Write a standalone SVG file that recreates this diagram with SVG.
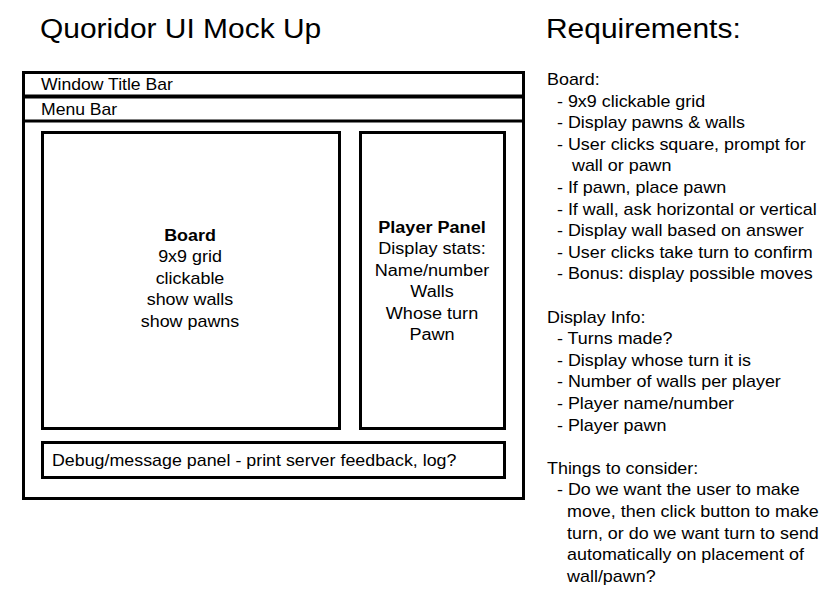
<svg xmlns="http://www.w3.org/2000/svg" width="828" height="612" viewBox="0 0 828 612">
<style>
text{font-family:"Liberation Sans",Arial,sans-serif;fill:#000}
.t{font-size:28px}
.b{font-size:16px}
.box{fill:#fff;stroke:#000;stroke-width:3}
.bold{font-weight:bold}
</style>
<rect width="828" height="612" fill="#fff"/>
<g id="headings">
<text class="t" x="40" y="38" transform="translate(40 0) scale(1.07 1) translate(-40 0)">Quoridor UI Mock Up</text>
<text class="t" x="546" y="38" transform="translate(546 0) scale(1.07 1) translate(-546 0)">Requirements:</text>
</g>
<g id="window">
<rect class="box" x="23.5" y="72.5" width="500" height="426"/>
</g>
<g id="title-bar">
<line x1="23.5" y1="96.5" x2="523.5" y2="96.5" stroke="#000" stroke-width="4"/>
<text class="b" x="41" y="90" transform="translate(41 0) scale(1.1 1) translate(-41 0)">Window Title Bar</text>
</g>
<g id="menu-bar">
<line x1="23.5" y1="121" x2="523.5" y2="121" stroke="#000" stroke-width="3"/>
<text class="b" x="41" y="115" transform="translate(41 0) scale(1.1 1) translate(-41 0)">Menu Bar</text>
</g>
<g id="board">
<rect class="box" x="42.5" y="132.5" width="297" height="296"/>
<text class="b" text-anchor="middle" x="190" y="241" transform="translate(190 0) scale(1.12 1) translate(-190 0)"><tspan class="bold" x="190">Board</tspan><tspan x="190" dy="21.5">9x9 grid</tspan><tspan x="190" dy="21.5">clickable</tspan><tspan x="190" dy="21.5">show walls</tspan><tspan x="190" dy="21.5">show pawns</tspan></text>
</g>
<g id="player-panel">
<rect class="box" x="360.5" y="132.5" width="144" height="296"/>
<text class="b" text-anchor="middle" x="432" y="233" transform="translate(432 0) scale(1.13 1) translate(-432 0)"><tspan class="bold" x="432">Player Panel</tspan><tspan x="432" dy="21.5">Display stats:</tspan><tspan x="432" dy="21.5">Name/number</tspan><tspan x="432" dy="21.5">Walls</tspan><tspan x="432" dy="21.5">Whose turn</tspan><tspan x="432" dy="21.5">Pawn</tspan></text>
</g>
<g id="debug-panel">
<rect class="box" x="42.5" y="442.5" width="462" height="35"/>
<text class="b" x="52" y="466" transform="translate(52 0) scale(1.115 1) translate(-52 0)">Debug/message panel - print server feedback, log?</text>
</g>
<g id="connectors"></g>
<g id="requirements">
<text class="b" x="547" y="85" transform="translate(547 0) scale(1.12 1) translate(-547 0)"><tspan x="547">Board:</tspan><tspan x="555.9" dy="21.6">- 9x9 clickable grid</tspan><tspan x="555.9" dy="21.6">- Display pawns &amp; walls</tspan><tspan x="555.9" dy="21.6">- User clicks square, prompt for</tspan><tspan x="569.3" dy="21.6">wall or pawn</tspan><tspan x="555.9" dy="21.6">- If pawn, place pawn</tspan><tspan x="555.9" dy="21.6">- If wall, ask horizontal or vertical</tspan><tspan x="555.9" dy="21.6">- Display wall based on answer</tspan><tspan x="555.9" dy="21.6">- User clicks take turn to confirm</tspan><tspan x="555.9" dy="21.6">- Bonus: display possible moves</tspan><tspan x="547" dy="43.2">Display Info:</tspan><tspan x="555.9" dy="21.6">- Turns made?</tspan><tspan x="555.9" dy="21.6">- Display whose turn it is</tspan><tspan x="555.9" dy="21.6">- Number of walls per player</tspan><tspan x="555.9" dy="21.6">- Player name/number</tspan><tspan x="555.9" dy="21.6">- Player pawn</tspan><tspan x="547" dy="43.2">Things to consider:</tspan><tspan x="555.9" dy="21.6">- Do we want the user to make</tspan><tspan x="564.9" dy="21.6">move, then click button to make</tspan><tspan x="564.9" dy="21.6">turn, or do we want turn to send</tspan><tspan x="564.9" dy="21.6">automatically on placement of</tspan><tspan x="564.9" dy="21.6">wall/pawn?</tspan></text>
</g>
</svg>
